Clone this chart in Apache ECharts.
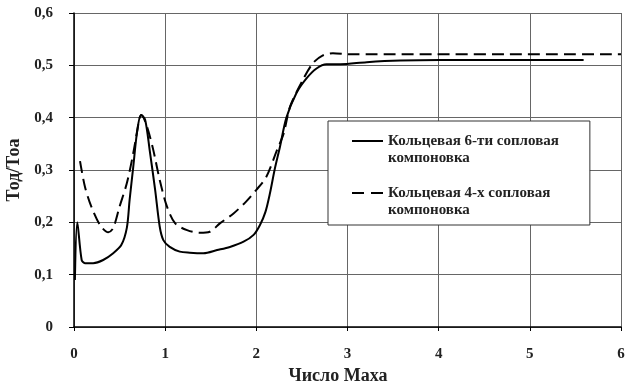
<!DOCTYPE html>
<html>
<head>
<meta charset="utf-8">
<script src="https://cdn.jsdelivr.net/npm/echarts@6/dist/echarts.min.js"></script>
<style>
html,body{margin:0;padding:0;background:#fff;}
#c{width:628px;height:383px;}
</style>
</head>
<body>
<div id="c"></div>
<script>
// Data
var seriesNames = ['Кольцевая 6-ти сопловая\nкомпоновка', 'Кольцевая 4-х сопловая\nкомпоновка'];
var ring6 = [
  [0.01,0.09],[0.036,0.2],[0.084,0.128],[0.12,0.122],[0.21,0.122],[0.32,0.128],[0.43,0.141],
  [0.52,0.157],[0.58,0.19],[0.61,0.243],[0.65,0.306],[0.69,0.37],[0.735,0.405],[0.78,0.396],
  [0.83,0.338],[0.89,0.262],[0.94,0.192],[0.98,0.166],[1.05,0.153],[1.16,0.144],[1.27,0.142],
  [1.42,0.141],[1.57,0.147],[1.71,0.153],[1.86,0.163],[1.97,0.176],[2.04,0.195],[2.1,0.22],
  [2.15,0.256],[2.2,0.3],[2.26,0.345],[2.33,0.4],[2.44,0.447],[2.55,0.475],[2.66,0.494],
  [2.77,0.502],[2.92,0.502],[3.21,0.506],[3.58,0.509],[4.01,0.51],[5.59,0.51]
];
var ring4 = [
  [0.066,0.317],[0.12,0.268],[0.19,0.23],[0.285,0.195],[0.376,0.181],[0.43,0.189],[0.5,0.23],
  [0.58,0.275],[0.65,0.332],[0.72,0.4],[0.74,0.405],[0.8,0.383],[0.87,0.338],[0.94,0.281],
  [1.02,0.23],[1.11,0.198],[1.24,0.185],[1.38,0.18],[1.49,0.182],[1.6,0.198],[1.75,0.217],
  [1.89,0.24],[2.0,0.262],[2.11,0.287],[2.22,0.335],[2.3,0.37],[2.37,0.421],[2.51,0.472],
  [2.62,0.504],[2.73,0.519],[2.84,0.523],[3.03,0.521],[6.0,0.521]
];
var xTicks = [0,1,2,3,4,5,6];
var yTicks = [0,0.1,0.2,0.3,0.4,0.5,0.6];
var xName = 'Число Маха';
var yName = 'Тод/Тоа';

var font = 'Liberation Serif';
var chart = echarts.init(document.getElementById('c'), null, {renderer:'canvas'});
chart.setOption({
  animation:false,
  backgroundColor:'#fff',
  grid:{left:74, right:7, top:13, bottom:56, containLabel:false, outerBoundsMode:'none'},
  xAxis:{
    type:'value', min:xTicks[0], max:xTicks[xTicks.length-1], interval:1,
    name:xName, nameLocation:'middle', nameGap:31,
    nameTextStyle:{fontFamily:font, fontWeight:'bold', fontSize:18, color:'#222', padding:[0,19,0,0]},
    axisLine:{lineStyle:{color:'#000', width:1.5}},
    axisTick:{show:true, length:4, lineStyle:{color:'#000'}},
    axisLabel:{margin:20, fontFamily:font, fontWeight:'bold', fontSize:15, color:'#222'},
    splitLine:{show:true, lineStyle:{color:'#666', width:1}}
  },
  yAxis:{
    type:'value', min:yTicks[0], max:yTicks[yTicks.length-1], interval:0.1,
    name:yName, nameLocation:'middle', nameGap:47, nameRotate:90,
    nameTextStyle:{fontFamily:font, fontWeight:'bold', fontSize:18, color:'#222', padding:[0,0,0,0]},
    axisLine:{show:true, lineStyle:{color:'#000', width:1.5}},
    axisTick:{show:true, length:5, lineStyle:{color:'#000'}},
    axisLabel:{margin:21, fontFamily:font, fontWeight:'bold', fontSize:15, color:'#222',
      formatter:function(v){return (Math.round(v*10)/10).toString().replace('.',',');}},
    splitLine:{show:true, lineStyle:{color:'#666', width:1}}
  },
  legend:{
    orient:'vertical', left:328, top:121,
    padding:[12,31,6,24],
    backgroundColor:'#fff', borderColor:'#333', borderWidth:1,
    itemWidth:31, itemHeight:34, itemGap:18,
    symbolKeepAspect:false,
    data:[
      {name:seriesNames[0], icon:'path://M0,0 L0.01,0 L0,0.01 Z M0,7 L31,7 L31,9 L0,9 Z M0,34 L0.01,34 L0,33.99 Z'},
      {name:seriesNames[1], icon:'path://M0,0 L0.01,0 L0,0.01 Z M0,7 L12,7 L12,9 L0,9 Z M19,7 L31,7 L31,9 L19,9 Z M0,34 L0.01,34 L0,33.99 Z'}
    ],
    textStyle:{fontFamily:font, fontWeight:'bold', fontSize:15, color:'#222', lineHeight:17}
  },
  series:[
    {name:seriesNames[0], type:'line', data:ring6, showSymbol:false, symbol:'none', smooth:0.3,
      lineStyle:{color:'#000', width:2}, itemStyle:{color:'#000'}},
    {name:seriesNames[1], type:'line', data:ring4, showSymbol:false, symbol:'none', smooth:0.3,
      lineStyle:{color:'#000', width:2, type:[12,6]}, itemStyle:{color:'#000'}}
  ]
});
</script>
</body>
</html>
